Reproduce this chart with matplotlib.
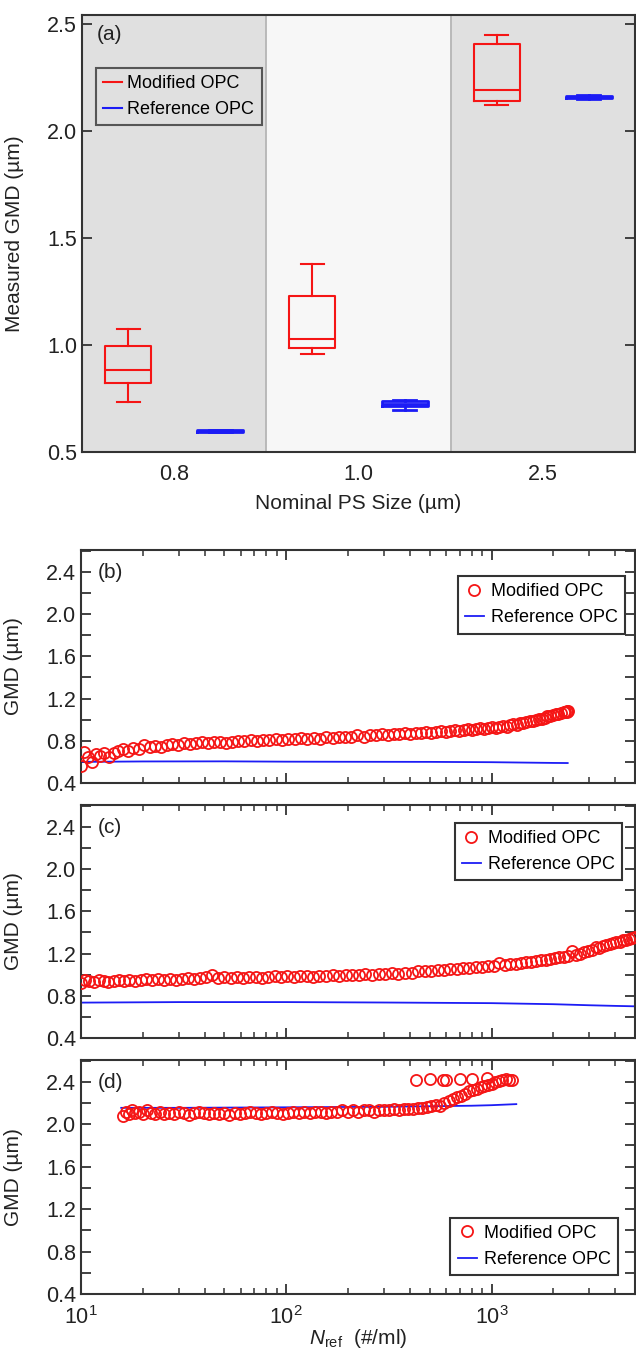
import matplotlib
matplotlib.use("Agg")
from matplotlib import pyplot as plt
from matplotlib.ticker import MultipleLocator, LogLocator, NullFormatter

plt.rcParams['font.family'] = ['Liberation Sans', 'DejaVu Sans']
plt.rcParams['mathtext.fontset'] = 'custom'
plt.rcParams['mathtext.rm'] = 'Liberation Sans'
plt.rcParams['mathtext.it'] = 'Liberation Sans:italic'

RED = '#f51515'
BLUE = '#1c1cf5'
DARK = '#333333'

# ---- panel (a): box statistics, one value per nominal size ----
sizes = ['0.8', '1.0', '2.5']
mod_whislo = [0.733, 0.957, 2.121]
mod_q1 = [0.823, 0.984, 2.138]
mod_med = [0.883, 1.026, 2.191]
mod_q3 = [0.997, 1.228, 2.408]
mod_whishi = [1.074, 1.379, 2.449]

ref_whislo = [0.593, 0.698, 2.150]
ref_q1 = [0.595, 0.714, 2.152]
ref_med = [0.599, 0.723, 2.158]
ref_q3 = [0.603, 0.736, 2.165]
ref_whishi = [0.604, 0.741, 2.167]

# ---- panel (b): 0.8 um ----
b_n = [10.0, 10.4, 10.8, 11.3, 11.8, 12.4, 13.0, 13.7, 14.4, 15.2, 16.0, 17.0,
       18.0, 19.1, 20.3, 21.6, 23.0, 24.5, 26.1, 27.8, 29.7, 31.7, 33.9, 36.2,
       38.7, 41.4, 44.3, 47.4, 50.8, 54.4, 58.3, 62.5, 67.0, 71.9, 77.1, 82.7,
       88.7, 95.2, 102, 110, 118, 126, 136, 146, 156, 168, 180, 193, 207, 222,
       238, 255, 273, 292, 312, 333, 355, 378, 402, 427, 453, 480, 508, 537,
       567, 598, 630, 663, 697, 732, 768, 805, 843, 882, 922, 963, 1005, 1048,
       1092, 1137, 1183, 1230, 1278, 1327, 1377, 1428, 1480, 1533, 1587, 1642,
       1698, 1755, 1813, 1872, 1932, 1993, 2055, 2118, 2182, 2247, 2290, 2320,
       2340, 2350]
b_gmd = [0.56, 0.69, 0.65, 0.60, 0.67, 0.66, 0.68, 0.65, 0.68, 0.70, 0.72, 0.70,
         0.73, 0.72, 0.76, 0.74, 0.75, 0.74, 0.76, 0.77, 0.76, 0.78, 0.77, 0.78,
         0.79, 0.78, 0.79, 0.79, 0.78, 0.79, 0.80, 0.80, 0.81, 0.80, 0.81, 0.81,
         0.82, 0.81, 0.82, 0.82, 0.83, 0.82, 0.83, 0.82, 0.84, 0.83, 0.84, 0.84,
         0.84, 0.85, 0.84, 0.85, 0.85, 0.86, 0.85, 0.86, 0.86, 0.87, 0.86, 0.87,
         0.87, 0.88, 0.87, 0.88, 0.89, 0.88, 0.89, 0.90, 0.89, 0.90, 0.91, 0.90,
         0.91, 0.92, 0.91, 0.92, 0.93, 0.92, 0.93, 0.94, 0.93, 0.95, 0.96, 0.95,
         0.97, 0.97, 0.98, 0.99, 0.99, 1.00, 1.01, 1.01, 1.02, 1.03, 1.03, 1.04,
         1.05, 1.05, 1.06, 1.07, 1.07, 1.08, 1.07, 1.08]
b_ref_n = [10, 20, 50, 100, 200, 500, 1000, 2000, 2350]
b_ref_gmd = [0.600, 0.604, 0.605, 0.602, 0.601, 0.600, 0.597, 0.590, 0.589]

# ---- panel (c): 1.0 um ----
c_n = [10.0, 10.5, 11.0, 11.6, 12.2, 12.9, 13.6, 14.4, 15.3, 16.2, 17.2, 18.3,
       19.5, 20.8, 22.2, 23.7, 25.3, 27.0, 28.9, 30.9, 33.1, 35.4, 37.9, 40.6,
       43.5, 46.6, 49.9, 53.5, 57.4, 61.6, 66.1, 70.9, 76.1, 81.7, 87.7, 94.2,
       101, 109, 117, 126, 135, 145, 156, 168, 181, 195, 210, 226, 243, 262,
       282, 304, 327, 352, 379, 408, 439, 472, 508, 546, 587, 631, 678, 728,
       781, 837, 896, 958, 1023, 1091, 1162, 1236, 1313, 1393, 1476, 1562,
       1651, 1743, 1838, 1936, 2037, 2141, 2248, 2358, 2471, 2587, 2706, 2828,
       2953, 3081, 3212, 3346, 3483, 3623, 3766, 3912, 4061, 4213, 4368, 4526,
       4687, 4851, 5018]
c_gmd = [0.92, 0.95, 0.94, 0.93, 0.95, 0.94, 0.93, 0.94, 0.95, 0.94, 0.95, 0.94,
         0.95, 0.96, 0.95, 0.96, 0.95, 0.96, 0.95, 0.96, 0.97, 0.96, 0.97, 0.98,
         1.00, 0.97, 0.98, 0.97, 0.98, 0.97, 0.98, 0.98, 0.97, 0.98, 0.99, 0.98,
         0.99, 0.98, 0.99, 0.99, 0.98, 0.99, 0.99, 1.00, 0.99, 1.00, 1.00, 1.00,
         1.01, 1.00, 1.01, 1.01, 1.02, 1.01, 1.02, 1.02, 1.03, 1.03, 1.03, 1.04,
         1.04, 1.05, 1.05, 1.06, 1.06, 1.07, 1.07, 1.08, 1.08, 1.11, 1.09, 1.10,
         1.10, 1.11, 1.12, 1.12, 1.13, 1.14, 1.14, 1.15, 1.16, 1.17, 1.17, 1.18,
         1.22, 1.19, 1.20, 1.21, 1.22, 1.23, 1.26, 1.25, 1.27, 1.28, 1.29, 1.30,
         1.31, 1.31, 1.33, 1.33, 1.34, 1.35, 1.36]
c_ref_n = [10, 30, 100, 300, 1000, 2000, 3000, 4000, 5000]
c_ref_gmd = [0.735, 0.740, 0.740, 0.736, 0.730, 0.720, 0.710, 0.704, 0.700]

# ---- panel (d): 2.5 um ----
d_n = [16.0, 16.5, 17.1, 17.7, 18.4, 19.2, 20.0, 20.9, 21.9, 23.0, 24.2, 25.5,
       26.9, 28.4, 30.0, 31.7, 33.5, 35.4, 37.4, 39.6, 41.9, 44.4, 47.0, 49.8,
       52.8, 56.0, 59.4, 63.0, 66.9, 71.0, 75.4, 80.1, 85.1, 90.4, 96.1, 102,
       108, 115, 122, 130, 138, 147, 156, 166, 176, 187, 199, 211, 224, 238,
       252, 267, 283, 300, 317, 335, 354, 373, 393, 414, 430, 436, 459, 483,
       500, 508, 534, 561, 580, 589, 598, 618, 648, 679, 700, 711, 744, 778,
       800, 813, 849, 886, 924, 950, 963, 1003, 1044, 1086, 1129, 1173, 1218,
       1264]
d_gmd = [2.08, 2.12, 2.10, 2.13, 2.11, 2.12, 2.10, 2.13, 2.11, 2.10, 2.12, 2.10,
         2.11, 2.10, 2.12, 2.11, 2.09, 2.11, 2.12, 2.11, 2.10, 2.11, 2.10, 2.11,
         2.09, 2.11, 2.10, 2.11, 2.12, 2.11, 2.10, 2.11, 2.12, 2.11, 2.10, 2.11,
         2.12, 2.11, 2.12, 2.11, 2.12, 2.12, 2.11, 2.12, 2.12, 2.13, 2.12, 2.13,
         2.12, 2.13, 2.13, 2.12, 2.13, 2.13, 2.13, 2.14, 2.13, 2.14, 2.14, 2.14,
         2.42, 2.15, 2.15, 2.16, 2.43, 2.17, 2.18, 2.17, 2.42, 2.20, 2.42, 2.22,
         2.24, 2.26, 2.43, 2.27, 2.29, 2.31, 2.43, 2.32, 2.33, 2.35, 2.36, 2.44,
         2.37, 2.38, 2.40, 2.41, 2.42, 2.43, 2.42, 2.42]
d_ref_n = [15.7, 30, 100, 300, 500, 800, 1000, 1320]
d_ref_gmd = [2.155, 2.155, 2.160, 2.165, 2.170, 2.175, 2.180, 2.190]

TICK_FS = 15.5
LABEL_FS = 15
LEG_FS = 13


def styleSpines(ax):
    for s in ax.spines.values():
        s.set_color(DARK)
        s.set_linewidth(1.5)


def drawBoxes():
    """Panel (a) boxes on shaded category bands."""
    ax = fig.add_axes([82 / 636, 1 - 452 / 1348, 553 / 636, 437 / 1348])
    ax.axvspan(-0.5, 0.5, color='#e0e0e0', zorder=0)
    ax.axvspan(0.5, 1.5, color='#f7f7f7', zorder=0)
    ax.axvspan(1.5, 2.5, color='#e0e0e0', zorder=0)
    for xb in [0.5, 1.5]:
        ax.axvline(xb, color='#b5b5b5', lw=1.3, zorder=1)

    modStats = []
    refStats = []
    for i in range(len(sizes)):
        modStats.append(dict(whislo=mod_whislo[i], q1=mod_q1[i], med=mod_med[i],
                             q3=mod_q3[i], whishi=mod_whishi[i], fliers=[]))
        refStats.append(dict(whislo=ref_whislo[i], q1=ref_q1[i], med=ref_med[i],
                             q3=ref_q3[i], whishi=ref_whishi[i], fliers=[]))
    pos = list(range(len(sizes)))
    for stats, off, col, lw in [(modStats, -0.25, RED, 1.5), (refStats, 0.25, BLUE, 2.0)]:
        lp = dict(color=col, linewidth=lw)
        ax.bxp(stats, positions=[p + off for p in pos], widths=0.25,
               boxprops=lp, whiskerprops=lp, capprops=lp, medianprops=lp,
               showfliers=False, manage_ticks=False, zorder=3)
    ax.plot([], [], color=RED, lw=1.5, label='Modified OPC')
    ax.plot([], [], color=BLUE, lw=1.5, label='Reference OPC')

    ax.set_xlim(-0.5, 2.5)
    ax.set_ylim(0.5, 2.542)
    ax.set_xticks(pos)
    ax.set_xticklabels(sizes)
    ax.yaxis.set_major_locator(MultipleLocator(0.5))
    ax.yaxis.set_major_formatter(plt.FormatStrFormatter('%.1f'))
    ax.tick_params(axis='x', length=0, pad=9, labelsize=TICK_FS, colors='#222222')
    ax.tick_params(axis='y', direction='in', length=7, width=1.3, right=True,
                   labelsize=TICK_FS, colors=DARK, labelcolor='#222222')
    ax.set_xlabel('Nominal PS Size (µm)', fontsize=LABEL_FS, color='#222222', labelpad=6)
    ax.set_ylabel('Measured GMD (µm)', fontsize=LABEL_FS, color='#222222')
    ax.yaxis.set_label_coords(-0.105, 0.5)
    ax.text(0.027, 0.955, '(a)', transform=ax.transAxes, fontsize=LABEL_FS,
            va='center', color='#222222')
    leg = ax.legend(loc='upper left', bbox_to_anchor=(0.025, 0.879), borderaxespad=0,
                    fontsize=LEG_FS, handlelength=1.05, handletextpad=0.3,
                    fancybox=False, frameon=True)
    leg.get_frame().set_edgecolor(DARK)
    leg.get_frame().set_linewidth(1.5)
    leg.get_frame().set_facecolor('none')
    styleSpines(ax)


def drawSeries(rect, tag, n, gmd, refN, refGmd, legLoc, legAnchor, showX):
    ax = fig.add_axes(rect)
    ax.plot(refN, refGmd, color=BLUE, lw=1.3, zorder=2, label='Reference OPC')
    ax.plot(n, gmd, ls='none', marker='o', ms=8, mfc='none', mec=RED, mew=1.3,
            zorder=3, label='Modified OPC')
    ax.set_xscale('log')
    ax.set_xlim(10, 5000)
    ax.set_ylim(0.4, 2.606)
    ax.xaxis.set_major_locator(LogLocator(base=10))
    ax.xaxis.set_minor_locator(LogLocator(base=10, subs=range(2, 10)))
    ax.xaxis.set_minor_formatter(NullFormatter())
    ax.yaxis.set_major_locator(MultipleLocator(0.4))
    ax.yaxis.set_minor_locator(MultipleLocator(0.2))
    ax.yaxis.set_major_formatter(plt.FormatStrFormatter('%.1f'))
    ax.tick_params(which='both', direction='in', top=True, right=True,
                   colors=DARK, labelcolor='#222222', labelsize=TICK_FS)
    ax.tick_params(which='major', length=7, width=1.3)
    ax.tick_params(axis='x', which='minor', length=4.5, width=1.1)
    ax.tick_params(axis='y', which='minor', length=7, width=1.3)
    if showX:
        ax.tick_params(axis='x', pad=9)
        ax.set_xlabel(r'$N_{\rm ref}$  (#/ml)', fontsize=LABEL_FS, color='#222222',
                      labelpad=-2)
    else:
        ax.tick_params(axis='x', labelbottom=False)
    ax.set_ylabel('GMD (µm)', fontsize=LABEL_FS, color='#222222')
    ax.yaxis.set_label_coords(-0.105, 0.5)
    ax.text(0.03, 0.905, tag, transform=ax.transAxes, fontsize=LABEL_FS,
            va='center', color='#222222')
    h, l = ax.get_legend_handles_labels()
    leg = ax.legend(h[::-1], l[::-1], loc=legLoc, bbox_to_anchor=legAnchor,
                    borderaxespad=0, fontsize=LEG_FS, handlelength=1.05,
                    handletextpad=0.4, fancybox=False, frameon=True, framealpha=1)
    leg.get_frame().set_edgecolor(DARK)
    leg.get_frame().set_linewidth(1.5)
    styleSpines(ax)
    return ax


fig = plt.figure(figsize=(6.36, 13.48), dpi=100)
drawBoxes()
W = 554 / 636
drawSeries([81 / 636, 1 - 783 / 1348, W, 233 / 1348], '(b)', b_n, b_gmd,
           b_ref_n, b_ref_gmd, 'upper right', (0.982, 0.888), False)
drawSeries([81 / 636, 1 - 1038 / 1348, W, 233 / 1348], '(c)', c_n, c_gmd,
           c_ref_n, c_ref_gmd, 'upper right', (0.977, 0.923), False)
drawSeries([81 / 636, 1 - 1294 / 1348, W, 234 / 1348], '(d)', d_n, d_gmd,
           d_ref_n, d_ref_gmd, 'lower right', (0.969, 0.081), True)

fig.savefig('out.png', dpi=100)
